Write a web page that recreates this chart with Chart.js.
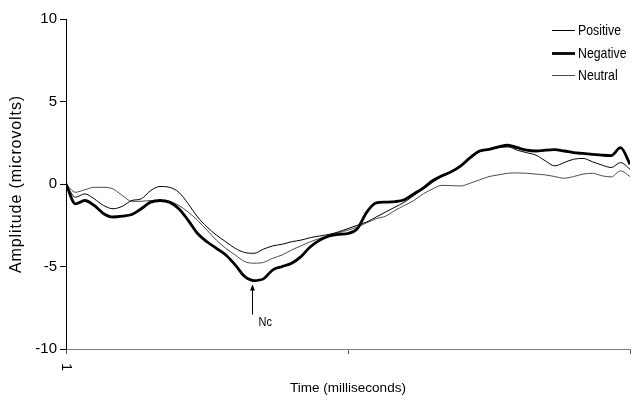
<!DOCTYPE html>
<html>
<head>
<meta charset="utf-8">
<script src="https://cdn.jsdelivr.net/npm/chart.js@4.4.0/dist/chart.umd.min.js"></script>
<style>
  html, body { margin: 0; padding: 0; background: #fff; }
  #wrap { width: 636px; height: 400px; position: relative; }
</style>
</head>
<body>
<div id="wrap"><canvas id="erp"></canvas></div>
<script>
// time points (ms), one every 10 samples
const time = [];
for (let t = 1; t <= 601; t += 10) time.push(t);

const positive = [
  0, -0.8, -0.6, -0.9, -1.3, -1.5, -1.35, -1.0, -0.9, -0.4,
  -0.15, -0.2, -0.5, -1.2, -2.0, -2.6, -3.1, -3.5, -3.9, -4.15,
  -4.2, -3.95, -3.75, -3.65, -3.5, -3.4, -3.25, -3.15, -3.05, -2.9,
  -2.7, -2.5, -2.3, -2.0, -1.7, -1.4, -1.1, -0.7, -0.3, 0.1,
  0.45, 0.7, 1.1, 1.55, 1.95, 2.1, 2.2, 2.25, 2.05, 1.9,
  1.75, 1.4, 1.1, 1.3, 1.5, 1.55, 1.35, 1.15, 1.0, 1.3, 0.9
];
const negative = [
  0, -1.2, -1.0, -1.3, -1.8, -2.0, -1.95, -1.85, -1.5, -1.1,
  -1.0, -1.1, -1.5, -2.2, -3.0, -3.5, -3.9, -4.3, -4.9, -5.6,
  -5.85, -5.75, -5.2, -5.0, -4.8, -4.4, -3.8, -3.4, -3.15, -3.05,
  -3.0, -2.7, -1.7, -1.15, -1.1, -1.07, -0.95, -0.6, -0.25, 0.2,
  0.5, 0.75, 1.1, 1.6, 2.0, 2.1, 2.25, 2.35, 2.2, 2.05,
  2.0, 2.05, 2.08, 2.0, 1.9, 1.85, 1.8, 1.75, 1.72, 2.2, 1.2
];
const neutral = [
  0, -0.5, -0.35, -0.2, -0.2, -0.3, -0.7, -1.05, -1.05, -1.0,
  -1.0, -1.05, -1.3, -1.7, -2.2, -2.8, -3.4, -3.9, -4.3, -4.7,
  -4.8, -4.75, -4.5, -4.3, -4.0, -3.75, -3.5, -3.3, -3.1, -2.95,
  -2.8, -2.6, -2.35, -2.1, -1.95, -1.6, -1.3, -1.0, -0.6, -0.3,
  -0.08, -0.1, -0.12, 0.05, 0.25, 0.45, 0.55, 0.65, 0.67, 0.65,
  0.6, 0.55, 0.45, 0.35, 0.45, 0.6, 0.65, 0.5, 0.43, 0.8, 0.45
];
const yTicks = [-10, -5, 0, 5, 10];
const xTicks = [1, 301, 601];

const FONT = 'Liberation Sans, Arial, sans-serif';

const toPoints = arr => arr.map((v, i) => ({x: time[i], y: v}));

// legend top-right, text a bit narrow like the original figure
const boxLegend = {
  id: 'boxLegend',
  afterDraw(chart) {
    const ctx = chart.ctx;
    ctx.save();
    ctx.font = '15px ' + FONT;
    ctx.textBaseline = 'middle';
    chart.data.datasets.forEach((ds, i) => {
      const y = Math.round(30 + i * 22.5) + 0.5;
      ctx.strokeStyle = ds.borderColor;
      ctx.lineWidth = ds.borderWidth;
      ctx.beginPath();
      ctx.moveTo(552, y);
      ctx.lineTo(575, y);
      ctx.stroke();
      ctx.save();
      ctx.translate(578, y);
      ctx.scale(0.82, 1);
      ctx.fillStyle = '#000';
      ctx.fillText(ds.label, 0, 0);
      ctx.restore();
    });
    ctx.restore();
  }
};

// y axis title, drawn rotated with a little letter spacing
const yTitle = {
  id: 'yTitle',
  afterDraw(chart) {
    const ctx = chart.ctx;
    const a = chart.chartArea;
    ctx.save();
    ctx.translate(17, (a.top + a.bottom) / 2);
    ctx.rotate(-Math.PI / 2);
    ctx.font = '16px ' + FONT;
    ctx.letterSpacing = '0.9px';
    ctx.fillStyle = '#000';
    ctx.textAlign = 'center';
    ctx.textBaseline = 'middle';
    ctx.fillText('Amplitude (microvolts)', 0, 0);
    ctx.restore();
  }
};

// arrow pointing at the negative peak (Nc)
const ncMarker = {
  id: 'ncMarker',
  afterDatasetsDraw(chart) {
    const ctx = chart.ctx;
    let idx = 0;
    negative.forEach((v, i) => { if (v < negative[idx]) idx = i; });
    const x = Math.round(chart.scales.x.getPixelForValue(time[idx])) - 1.5;
    const y = chart.scales.y.getPixelForValue(negative[idx]);
    ctx.save();
    ctx.strokeStyle = '#000';
    ctx.fillStyle = '#000';
    ctx.lineWidth = 1;
    ctx.beginPath();
    ctx.moveTo(x, y + 34);
    ctx.lineTo(x, y + 6);
    ctx.stroke();
    ctx.beginPath();
    ctx.moveTo(x, y + 4);
    ctx.lineTo(x - 2.5, y + 10);
    ctx.lineTo(x + 2.5, y + 10);
    ctx.closePath();
    ctx.fill();
    ctx.translate(x + 6, y + 42);
    ctx.scale(0.85, 1);
    ctx.font = '13px ' + FONT;
    ctx.textBaseline = 'middle';
    ctx.fillText('Nc', 0, 0);
    ctx.restore();
  }
};

new Chart(document.getElementById('erp'), {
  type: 'line',
  data: {
    datasets: [
      {label: 'Positive', data: toPoints(positive), borderColor: '#000000', borderWidth: 1},
      {label: 'Negative', data: toPoints(negative), borderColor: '#000000', borderWidth: 2.8},
      {label: 'Neutral', data: toPoints(neutral), borderColor: '#4a4a4a', borderWidth: 1}
    ]
  },
  options: {
    responsive: true,
    maintainAspectRatio: false,
    animation: false,
    layout: {padding: {top: 19, right: 6, left: 0, bottom: 0}},
    elements: {
      point: {radius: 0},
      line: {tension: 0.4, cubicInterpolationMode: 'monotone'}
    },
    plugins: {
      legend: {display: false},
      tooltip: {enabled: false}
    },
    scales: {
      x: {
        type: 'linear',
        min: 1,
        max: 601,
        afterBuildTicks: axis => { axis.ticks = xTicks.map(v => ({value: v})); },
        afterFit: axis => {
          axis.height = 51;
          axis.paddingLeft = 0;
          axis.paddingRight = 0;
        },
        ticks: {
          callback: v => (v === 1 ? '1' : ''),
          minRotation: -90,
          maxRotation: -90,
          color: '#000',
          font: {family: FONT, size: 14},
          padding: 17
        },
        grid: {drawOnChartArea: false, tickLength: 5, color: '#555'},
        border: {color: '#808080', width: 1},
        title: {
          display: true,
          text: 'Time (milliseconds)',
          color: '#000',
          font: {family: FONT, size: 13.5},
          padding: {top: 0, bottom: 4}
        }
      },
      y: {
        min: -10,
        max: 10,
        afterBuildTicks: axis => { axis.ticks = yTicks.map(v => ({value: v})); },
        afterFit: axis => { axis.width = 66; },
        ticks: {
          color: '#000',
          font: {family: FONT, size: 15},
          padding: 3
        },
        grid: {drawOnChartArea: false, tickLength: 6, color: '#000'},
        border: {color: '#000', width: 1}
      }
    }
  },
  plugins: [boxLegend, yTitle, ncMarker]
});
</script>
</body>
</html>
